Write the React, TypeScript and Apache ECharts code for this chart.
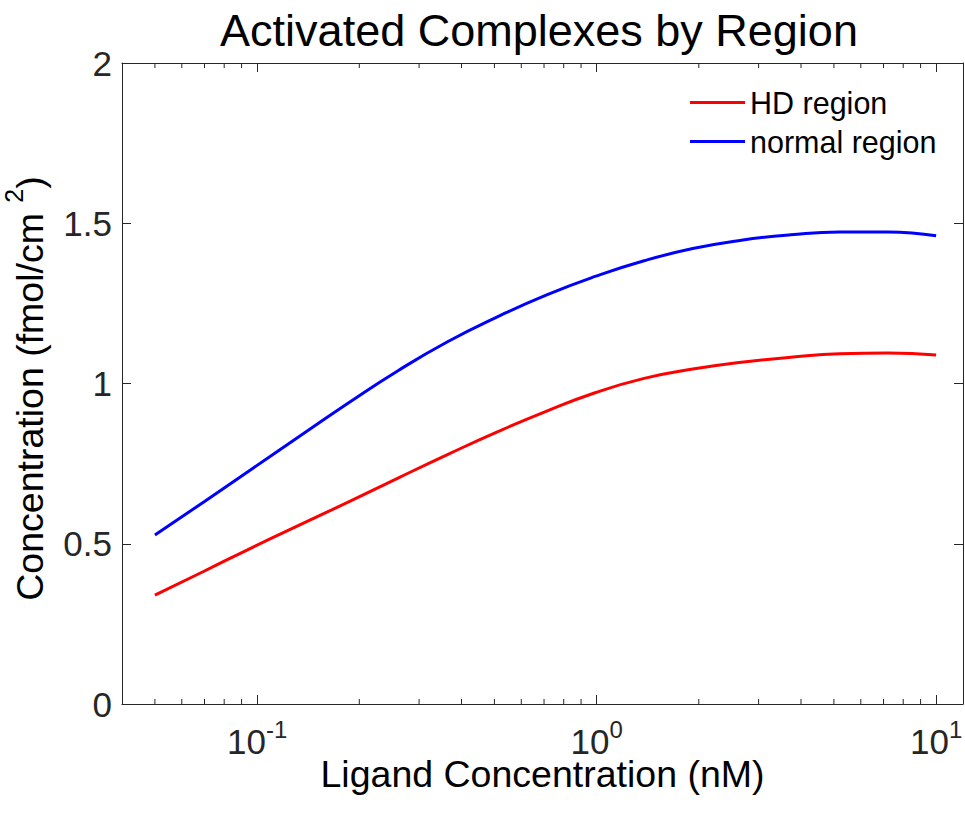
import React, { useEffect, useRef } from 'react';
import * as echarts from 'echarts';

// Ligand concentration (nM), sample points (roughly even in log space)
const LIGAND_NM = [0.05, 0.07, 0.097, 0.135, 0.188, 0.26, 0.365, 0.51, 0.71, 0.99, 1.38, 1.92, 2.67, 3.73, 5.2, 7.2, 10];
// Activated complex concentration (fmol/cm^2)
const HD_REGION = [0.34, 0.415, 0.489, 0.561, 0.633, 0.705, 0.779, 0.849, 0.913, 0.971, 1.016, 1.045, 1.066, 1.082, 1.093, 1.095, 1.089];
const NORMAL_REGION = [0.527, 0.632, 0.735, 0.839, 0.943, 1.04, 1.131, 1.208, 1.276, 1.334, 1.383, 1.421, 1.447, 1.464, 1.473, 1.473, 1.461];
// Minor log ticks (MATLAB style)
const MINOR_TICKS = [0.05, 0.06, 0.07, 0.08, 0.09, 0.2, 0.3, 0.4, 0.5, 0.6, 0.7, 0.8, 0.9, 2, 3, 4, 5, 6, 7, 8, 9];
const SERIES_NAMES = ['HD region', 'normal region'];

const FONT = 'Arial, "Liberation Sans", Helvetica, sans-serif';
const AX = '#262626';

export default function App() {
  const ref = useRef<HTMLDivElement>(null);
  useEffect(() => {
    const chart = echarts.init(ref.current!, null, { renderer: 'svg' });
    const powFmt = (v: number) => {
      const e = Math.log10(v);
      const r = Math.round(e);
      if (Math.abs(e - r) > 1e-6) return '';
      return `{b|10}{s|${r}}`;
    };
    const richTick = {
      b: { fontFamily: FONT, fontSize: 35, color: AX, lineHeight: 42, verticalAlign: 'bottom' },
      s: { fontFamily: FONT, fontSize: 24, color: AX, lineHeight: 22, verticalAlign: 'top' },
    };
    const yMin = 0, yMax = 2;
    const axisLine = { show: true, onZero: false, lineStyle: { color: AX, width: 1 } };
    const axisTick = { show: true, inside: true, length: 9, lineStyle: { color: AX, width: 1 } };
    chart.setOption({
      animation: false,
      backgroundColor: '#ffffff',
      graphic: [
        {
          type: 'text',
          x: 539,
          y: 30,
          style: {
            text: 'Activated Complexes by Region',
            fontFamily: FONT,
            fontSize: 45,
            fill: '#000',
            align: 'center',
            verticalAlign: 'middle',
          },
        },
      ],
      grid: { left: 122, right: 2, top: 63, bottom: 112, containLabel: false, outerBoundsMode: 'none' },
      legend: {
        data: SERIES_NAMES,
        orient: 'vertical',
        left: 690,
        top: 87,
        padding: 0,
        itemWidth: 55,
        itemHeight: 3,
        itemGap: 8,
        icon: 'rect',
        textStyle: { fontFamily: FONT, fontSize: 30.5, color: '#000' },
      },
      xAxis: [
        {
          type: 'log',
          logBase: 10,
          min: 0.04,
          max: 12,
          position: 'bottom',
          axisLine,
          axisTick,
          axisLabel: { formatter: powFmt, rich: richTick, margin: 13, showMinLabel: false, showMaxLabel: false },
          splitLine: { show: false },
          name: 'Ligand Concentration (nM)',
          nameLocation: 'middle',
          nameGap: 53,
          nameMoveOverlap: false,
          nameTextStyle: { fontFamily: FONT, fontSize: 37.5, color: '#000', lineHeight: 34 },
        },
        {
          type: 'log',
          logBase: 10,
          min: 0.04,
          max: 12,
          position: 'top',
          axisLine,
          axisTick,
          axisLabel: { show: false },
          splitLine: { show: false },
        },
      ],
      yAxis: [
        {
          type: 'value',
          min: yMin,
          max: yMax,
          interval: 0.5,
          position: 'left',
          axisLine,
          axisTick,
          axisLabel: { fontFamily: FONT, fontSize: 35, color: AX, margin: 10 },
          splitLine: { show: false },
          name: '{b|Concentration (fmol/cm }{s|2}{b|)}',
          nameLocation: 'middle',
          nameRotate: 90,
          nameGap: 73,
          nameMoveOverlap: false,
          nameTextStyle: {
            padding: [0, 10, 0, 0],
            rich: {
              b: { fontFamily: FONT, fontSize: 37.5, color: '#000', lineHeight: 48, verticalAlign: 'bottom' },
              s: { fontFamily: FONT, fontSize: 25, color: '#000', lineHeight: 25, verticalAlign: 'top' },
            },
          },
        },
        {
          type: 'value',
          min: yMin,
          max: yMax,
          interval: 0.5,
          position: 'right',
          axisLine,
          axisTick,
          axisLabel: { show: false },
          splitLine: { show: false },
        },
      ],
      series: [
        {
          name: SERIES_NAMES[0],
          type: 'line',
          data: LIGAND_NM.map((x, i) => [x, HD_REGION[i]]),
          showSymbol: false,
          symbol: 'none',
          smooth: 0.5,
          lineStyle: { color: '#ff0000', width: 3 },
          itemStyle: { color: '#ff0000' },
        },
        {
          name: SERIES_NAMES[1],
          type: 'line',
          data: LIGAND_NM.map((x, i) => [x, NORMAL_REGION[i]]),
          showSymbol: false,
          symbol: 'none',
          smooth: 0.5,
          lineStyle: { color: '#0000ff', width: 3 },
          itemStyle: { color: '#0000ff' },
        },
        {
          name: 'minorTicks',
          type: 'custom',
          silent: true,
          data: MINOR_TICKS.map((x) => [x, yMin]),
          encode: { x: 0, y: 1 },
          renderItem: (params: any, api: any) => {
            const x = api.value(0);
            const bottom = api.coord([x, yMin]);
            const top = api.coord([x, yMax]);
            const style = { stroke: AX, lineWidth: 1 };
            return {
              type: 'group',
              children: [
                { type: 'line', shape: { x1: bottom[0], y1: bottom[1], x2: bottom[0], y2: bottom[1] - 5 }, style },
                { type: 'line', shape: { x1: top[0], y1: top[1], x2: top[0], y2: top[1] + 5 }, style },
              ],
            };
          },
        },
      ],
    });
    return () => chart.dispose();
  }, []);
  return <div ref={ref} style={{ position: 'fixed', left: 0, top: 0, width: 965, height: 816 }} />;
}
